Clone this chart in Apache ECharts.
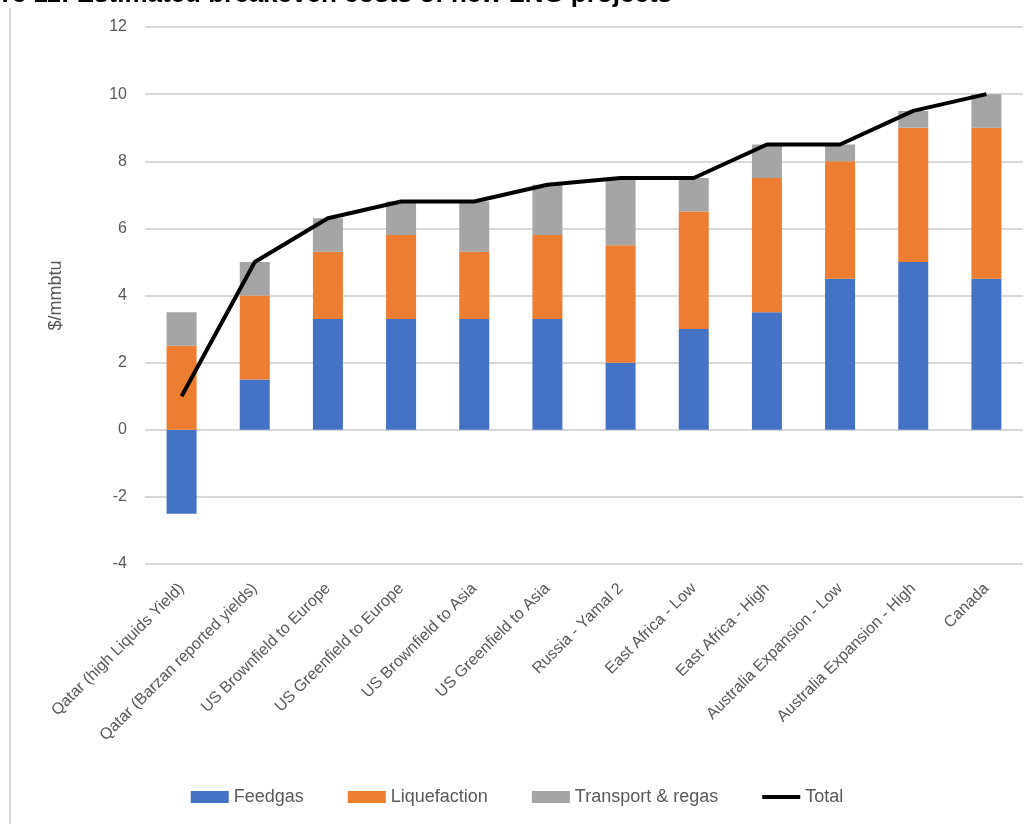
<!DOCTYPE html>
<html>
<head>
<meta charset="utf-8">
<script src="https://cdn.jsdelivr.net/npm/echarts@6/dist/echarts.min.js"></script>
<style>
  html, body { margin: 0; padding: 0; background: #fff; }
  #chart { width: 1034px; height: 824px; }
</style>
</head>
<body>
<div id="chart"></div>
<script>
// breakeven cost components, $/mmbtu
const projects = [
    'Qatar (high Liquids Yield)',
    'Qatar (Barzan reported yields)',
    'US Brownfield to Europe',
    'US Greenfield to Europe',
    'US Brownfield to Asia',
    'US Greenfield to Asia',
    'Russia - Yamal 2',
    'East Africa - Low',
    'East Africa - High',
    'Australia Expansion - Low',
    'Australia Expansion - High',
    'Canada'
];
const feedgas      = [-2.5, 1.5, 3.3, 3.3, 3.3, 3.3, 2.0, 3.0, 3.5, 4.5, 5.0, 4.5];
const liquefaction = [2.5, 2.5, 2.0, 2.5, 2.0, 2.5, 3.5, 3.5, 4.0, 3.5, 4.0, 4.5];
const transport    = [1.0, 1.0, 1.0, 1.0, 1.5, 1.5, 2.0, 1.0, 1.0, 0.5, 0.5, 1.0];
const total        = [1.0, 5.0, 6.3, 6.8, 6.8, 7.3, 7.5, 7.5, 8.5, 8.5, 9.5, 10.0];

const yTicks = { min: -4, max: 12, interval: 2 };

const font = 'Liberation Sans, Arial, sans-serif';
const grey = '#595959';

const chart = echarts.init(document.getElementById('chart'));

const barSeries = function (name, values, color) {
    return {
        name: name,
        type: 'bar',
        stack: 'cost',
        barWidth: '41%',
        data: values,
        itemStyle: { color: color },
        emphasis: { disabled: true }
    };
};

const option = {
    animation: false,
    textStyle: { fontFamily: font },
    graphic: [
        {
            type: 'text',
            right: 362,
            top: -18,
            style: {
                text: 'Figure 11: Estimated breakeven costs of new LNG projects',
                font: 'bold 26px ' + font,
                fill: '#000'
            }
        },
        {
            type: 'line',
            shape: { x1: 10, y1: 8, x2: 10, y2: 824 },
            style: { stroke: '#d9d9d9', lineWidth: 2 }
        }
    ],
    legend: {
        bottom: 13,
        left: 'center',
        itemGap: 44,
        itemWidth: 38,
        itemHeight: 12,
        textStyle: { color: grey, fontSize: 18, fontFamily: font },
        data: [
            { name: 'Feedgas', icon: 'rect' },
            { name: 'Liquefaction', icon: 'rect' },
            { name: 'Transport & regas', icon: 'rect' },
            { name: 'Total', icon: 'path://M0,0 L38,0 L38,4 L0,4 Z' }
        ]
    },
    grid: { left: 145, right: 11, top: 27, bottom: 260 },
    xAxis: {
        type: 'category',
        data: projects,
        axisLine: { show: false },
        axisTick: { show: false },
        axisLabel: {
            rotate: 45,
            interval: 0,
            color: grey,
            fontSize: 16,
            margin: 22
        }
    },
    yAxis: {
        type: 'value',
        min: yTicks.min,
        max: yTicks.max,
        interval: yTicks.interval,
        name: '$/mmbtu',
        nameLocation: 'middle',
        nameGap: 80,
        nameTextStyle: { color: grey, fontSize: 18 },
        axisLabel: { color: grey, fontSize: 16, margin: 18 },
        splitLine: { lineStyle: { color: '#d9d9d9', width: 2 } }
    },
    series: [
        barSeries('Feedgas', feedgas, '#4472c4'),
        barSeries('Liquefaction', liquefaction, '#ed7d31'),
        barSeries('Transport & regas', transport, '#a5a5a5'),
        {
            name: 'Total',
            type: 'line',
            data: total,
            symbol: 'none',
            z: 5,
            lineStyle: { color: '#000', width: 4 },
            itemStyle: { color: '#000' }
        }
    ]
};

chart.setOption(option);
</script>
</body>
</html>
